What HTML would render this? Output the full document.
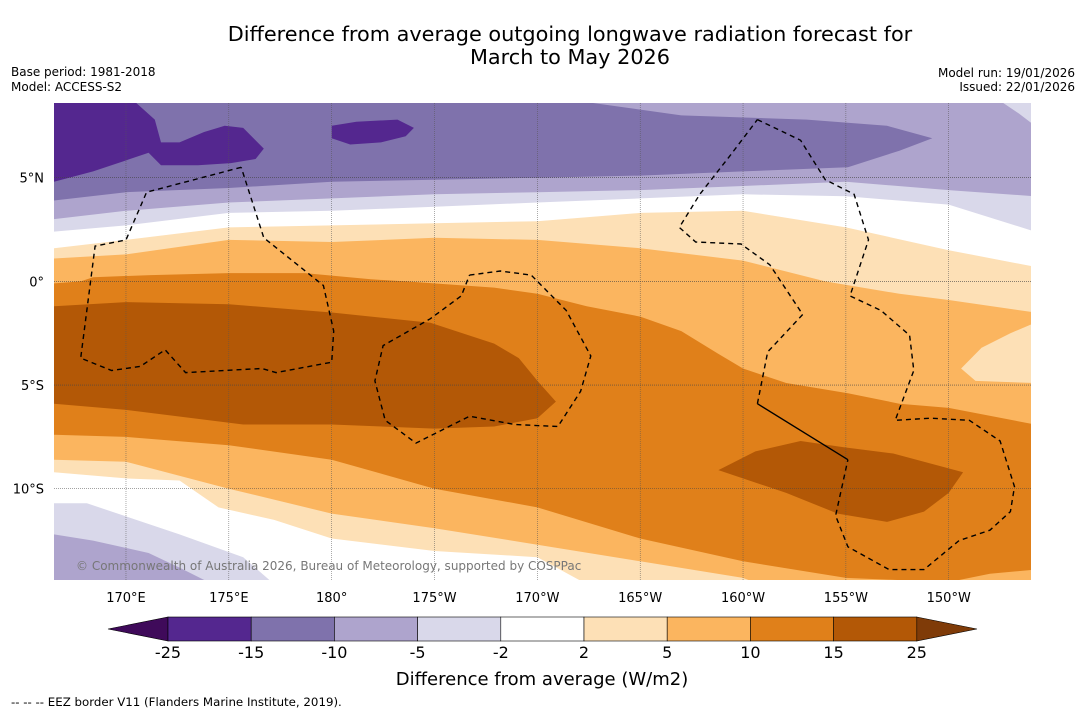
<!DOCTYPE html>
<html><head><meta charset="utf-8"><style>
body{margin:0;background:#fff;width:1085px;height:713px;overflow:hidden;font-family:"Liberation Sans",sans-serif}
svg text{font-family:"DejaVu Sans","Liberation Sans",sans-serif}
</style></head><body>
<svg id="chart" width="1085" height="713" xmlns="http://www.w3.org/2000/svg">
<text x="570" y="41" text-anchor="middle" font-size="20.8">Difference from average outgoing longwave radiation forecast for</text>
<text x="570" y="64" text-anchor="middle" font-size="20.8">March to May 2026</text>
<text x="11" y="76" font-size="12">Base period: 1981-2018</text>
<text x="11" y="91" font-size="12">Model: ACCESS-S2</text>
<text x="1075" y="77" font-size="12" text-anchor="end">Model run: 19/01/2026</text>
<text x="1075" y="91" font-size="12" text-anchor="end">Issued: 22/01/2026</text>
<defs><clipPath id="mapclip"><rect x="54" y="103" width="977" height="477"/></clipPath></defs>
<g id="map" clip-path="url(#mapclip)"></g>
<g id="axes"></g>
<g id="cbar"></g>
<text x="542" y="685" text-anchor="middle" font-size="18">Difference from average (W/m2)</text>
<text x="11" y="706" font-size="11.8">--  --  -- EEZ border V11 (Flanders Marine Institute, 2019).</text>
</svg>
<script>
const lonTicks=[170,175,180,185,190,195,200,205,210];
const lonLabels=["170°E","175°E","180°","175°W","170°W","165°W","160°W","155°W","150°W"];
const latTicks=[5,0,-5,-10];
const latLabels=["5°N","0°","5°S","10°S"];
const cbLevels=["-25","-15","-10","-5","-2","2","5","10","15","25"];
const cbColors=["#54278f","#7f72ac","#aea4cd","#d9d8ea","#ffffff","#fde0b6","#fbb55f","#e0801a","#b35806"];
const cbUnder="#3f0a5a", cbOver="#7f3b08";
// contour boundaries [lon, lat]
const mediumPurple=[[166.5,9],[192.7,9],[192.7,8.6],[197.0,8.0],[203.1,7.8],[207.0,7.5],[209.2,6.9],[207.6,6.3],[205.1,5.5],[200.0,5.3],[195.0,5.1],[190.0,5.0],[185.0,4.9],[180.0,4.8],[175.0,4.5],[170.0,4.3],[166.5,3.9]];
const darkPurple1=[[166.5,9],[170.5,9],[170.5,8.6],[171.4,7.8],[171.7,6.7],[172.6,6.7],[173.8,7.2],[174.8,7.5],[175.7,7.4],[176.7,6.4],[176.3,5.9],[175.1,5.7],[173.5,5.6],[171.7,5.6],[171.1,6.2],[169.9,5.8],[168.4,5.3],[166.5,4.8]];
const darkPurple2=[[180.0,7.5],[181.2,7.7],[183.2,7.8],[184.0,7.4],[183.6,7.0],[182.4,6.7],[180.9,6.6],[180.0,6.9]];
const cornerLight=[[212.5,9],[212.5,8.7],[213.4,8.1],[214.2,7.5],[214.2,9]];
const lons11=[166.5,170,175,180,185,190,195,200,205,210,214.2];
const b2=[3.0,3.4,3.8,4.0,4.2,4.3,4.4,4.6,4.8,4.4,4.1];
const b3=[2.4,2.7,3.3,3.4,3.6,3.8,4.0,4.2,4.1,3.7,2.4];
const b4=[1.6,2.0,2.6,2.7,2.8,2.9,3.3,3.4,2.6,1.5,0.7];
const b5=[[166.5,1.1],[170,1.3],[175,2.0],[180,1.9],[185,2.1],[190,2.0],[195,1.6],[200,1.0],[204,0],[207.6,-0.6],[210,-0.9],[214.2,-1.5]];
const lobe=[[214.2,-2.0],[213.0,-2.5],[211.6,-3.2],[210.6,-4.2],[211.3,-4.8],[214.2,-4.9]];
const b6=[[166.5,-0.1],[167.8,0.0],[168.4,0.2],[171.2,0.3],[175.0,0.4],[178.7,0.4],[181.9,0.1],[183.6,0],[187.9,-0.3],[190.0,-0.6],[192.4,-1.2],[195.0,-1.7],[197.0,-2.4],[198.8,-3.5],[200.0,-4.2],[202.1,-4.9],[205.1,-5.4],[207.6,-5.9],[210.0,-6.1],[214.2,-6.9]];
const brown1=[[166.5,-1.2],[170.0,-1.0],[175.0,-1.1],[180.0,-1.5],[184.8,-2.0],[187.9,-3.0],[189.1,-3.7],[190.0,-4.8],[190.9,-5.8],[190.0,-6.6],[187.9,-7.0],[185.0,-7.1],[180.0,-6.9],[175.7,-6.9],[170.0,-6.2],[166.5,-5.9]];
const brown2=[[198.8,-9.1],[200.6,-8.2],[202.8,-7.7],[204.9,-8.0],[207.3,-8.3],[210.7,-9.2],[210.0,-10.2],[208.8,-11.1],[207.0,-11.6],[204.6,-11.2],[202.1,-10.2],[200.3,-9.6]];
const b8=[[166.5,-7.4],[170,-7.5],[175,-7.9],[180,-8.6],[185,-10.0],[190,-10.9],[195,-12.4],[200,-13.5],[205,-14.3],[210,-14.5],[212,-14.1],[214.2,-13.9]];
const b9=[[166.5,-8.6],[170,-8.7],[175,-10.0],[180,-11.2],[185,-11.9],[190,-12.7],[195,-13.5],[200,-14.3],[200.8,-14.6]];
const b10=[[166.5,-9.2],[170,-9.5],[172.6,-9.6],[174.5,-10.9],[177.2,-11.5],[180,-12.4],[185,-13.0],[190,-13.3],[192.4,-14.6]];
const b11=[[166.5,-10.7],[168.1,-10.7],[169.6,-11.2],[172.6,-12.2],[175.7,-13.3],[177.2,-14.6]];
const b12=[[166.5,-12.2],[168.4,-12.5],[171.1,-13.1],[172.6,-13.8],[174.2,-14.6]];
const eez1=[[175.6,5.5],[171.0,4.3],[170.0,2.0],[168.5,1.7],[167.8,-3.7],[169.3,-4.3],[170.7,-4.1],[171.9,-3.3],[172.9,-4.4],[176.6,-4.2],[177.3,-4.4],[180.0,-3.9],[180.1,-2.4],[179.6,-0.2],[176.7,2.1],[175.6,5.5]];
const eez2=[[186.7,0.3],[188.2,0.5],[189.7,0.3],[191.4,-1.4],[192.6,-3.6],[192.1,-5.3],[191.0,-7.0],[188.9,-6.9],[186.7,-6.5],[184.1,-7.8],[182.6,-6.7],[182.1,-4.8],[182.5,-3.1],[184.8,-1.8],[186.3,-0.7],[186.7,0.3]];
const eez3=[[200.7,7.8],[202.8,6.8],[204.0,4.9],[205.4,4.2],[206.1,2.0],[205.2,-0.7],[206.7,-1.4],[208.1,-2.6],[208.3,-4.3],[207.4,-6.7],[209.1,-6.6],[211.0,-6.7],[212.5,-7.7],[213.2,-9.9],[213.0,-11.1],[212.0,-12.0],[210.5,-12.5],[208.8,-13.9],[207.1,-13.9],[205.1,-12.8],[204.5,-11.3],[205.1,-8.6]];
const eez3b=[[205.1,-8.6],[200.7,-5.9]];
const eez3c=[[200.7,-5.9],[201.2,-3.4],[202.9,-1.6],[201.3,0.8],[199.9,1.8],[197.7,1.9],[196.9,2.6],[197.9,4.2],[199.4,6.1],[200.7,7.8]];

const LON0=166.5,LON1=214,LAT0=8.6,LAT1=-14.4,PX0=54,PX1=1031,PY0=103,PY1=580;
const X=l=>PX0+(l-LON0)*(PX1-PX0)/(LON1-LON0);
const Y=a=>PY0+(LAT0-a)*(PY1-PY0)/(LAT0-LAT1);
const NS="http://www.w3.org/2000/svg";
const map=document.getElementById('map');
function mk(tag,attrs,parent){const e=document.createElementNS(NS,tag);for(const k in attrs)e.setAttribute(k,attrs[k]);parent.appendChild(e);return e;}
function pts(arr){return arr.map(p=>X(p[0]).toFixed(1)+','+Y(p[1]).toFixed(1)).join(' ');}
function poly(arr,color,name){const e=mk('polygon',{points:pts(arr),fill:color},map);

return e;}
const BOT=-15.5;
function below(arr,color,name){poly(arr.concat([[214.5,BOT],[166,BOT]]),color,name);}
function belowL(arr,color,name){poly(arr.concat([[arr[arr.length-1][0],BOT],[166,BOT]]),color,name);}
const zip=b=>lons11.map((l,i)=>[l,b[i]]);

const bg=mk('rect',{x:54,y:103,width:977,height:477,fill:cbColors[2]},map);


poly(cornerLight,cbColors[3],'band-corner-minus5-to-minus2');
poly(mediumPurple,cbColors[1],'band-minus15-to-minus10');
poly(darkPurple1,cbColors[0],'band-minus25-to-minus15-west');
poly(darkPurple2,cbColors[0],'band-minus25-to-minus15-central');
below(zip(b2),cbColors[3],'band-minus5-to-minus2-north');
below(zip(b3),cbColors[4],'band-neutral-north');
below(zip(b4),cbColors[5],'band-2-to-5-north');
below(b5,cbColors[6],'band-5-to-10');
poly(lobe,cbColors[5],'band-2-to-5-east-lobe');
below(b6,cbColors[7],'band-10-to-15');
poly(brown1,cbColors[8],'band-15-to-25-west');
poly(brown2,cbColors[8],'band-15-to-25-east');
below(b8,cbColors[6],'band-5-to-10-south');
belowL(b9,cbColors[5],'band-2-to-5-south');
belowL(b10,cbColors[4],'band-neutral-south');
belowL(b11,cbColors[3],'band-minus5-to-minus2-south');
belowL(b12,cbColors[2],'band-minus10-to-minus5-south');

// gridlines
lonTicks.forEach(l=>{const g=mk('line',{x1:X(l),x2:X(l),y1:103,y2:580,stroke:'#555','stroke-width':0.5,'stroke-dasharray':'1,1'},map);

});
latTicks.forEach(a=>{const g=mk('line',{x1:54,x2:1031,y1:Y(a),y2:Y(a),stroke:'#444','stroke-width':0.6,'stroke-dasharray':'1,1'},map);

});
// EEZ
[eez1,eez2,eez3,eez3c].forEach(a=>{const e=mk('polyline',{points:pts(a),fill:'none',stroke:'#000','stroke-width':1.4,'stroke-dasharray':'5,4'},map);

});
const sb=mk('polyline',{points:pts(eez3b),fill:'none',stroke:'#000','stroke-width':1.4},map);


const cp=mk('text',{x:76,y:570,'font-size':12,fill:'#777'},map);
cp.textContent='© Commonwealth of Australia 2026, Bureau of Meteorology, supported by COSPPac';



const axes=document.getElementById('axes');
lonTicks.forEach((l,i)=>{const t=mk('text',{x:X(l),y:602,'text-anchor':'middle','font-size':13},axes);t.textContent=lonLabels[i];

});
latTicks.forEach((a,i)=>{const t=mk('text',{x:44,y:Y(a)+5,'text-anchor':'end','font-size':13},axes);t.textContent=latLabels[i];

});

const cb=document.getElementById('cbar');
const cbX0=168,cbW=83.2,cbY=617,cbH=24;
const ut=mk('polygon',{points:`108,${cbY+cbH/2} ${cbX0},${cbY} ${cbX0},${cbY+cbH}`,fill:cbUnder,stroke:'#000','stroke-width':0.6},cb);


cbColors.forEach((c,i)=>{const r=mk('rect',{x:cbX0+i*cbW,y:cbY,width:cbW,height:cbH,fill:c,stroke:'#000','stroke-width':0.6},cb);

});
const xe=cbX0+cbColors.length*cbW;
const ot=mk('polygon',{points:`${xe},${cbY} 977,${cbY+cbH/2} ${xe},${cbY+cbH}`,fill:cbOver,stroke:'#000','stroke-width':0.6},cb);


cbLevels.forEach((v,i)=>{const t=mk('text',{x:cbX0+i*cbW,y:658,'text-anchor':'middle','font-size':16},cb);t.textContent=v;

});
</script>
</body></html>
